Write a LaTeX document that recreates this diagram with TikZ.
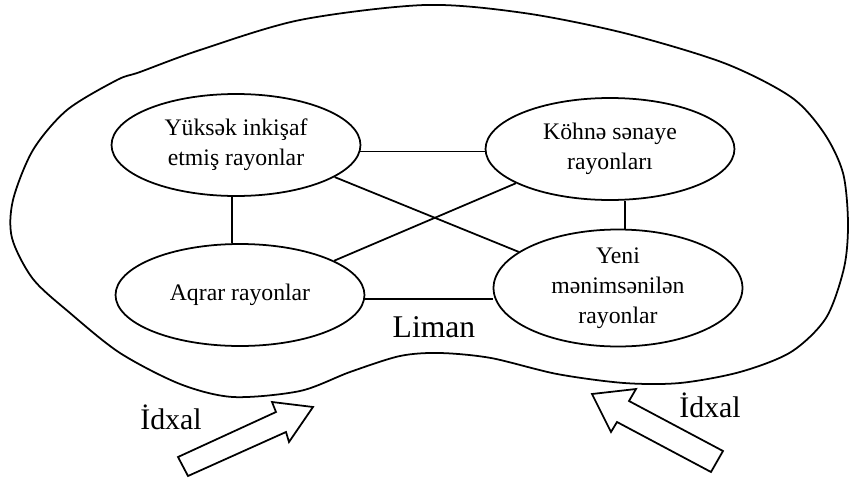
\documentclass[tikz,border=0pt]{standalone}
\usepackage{fontspec}
\setmainfont{Liberation Serif}
\usetikzlibrary{shapes.geometric}

\begin{document}
\begin{tikzpicture}[x=0.02cm, y=0.02cm, line width=1pt,
  rayon/.style={ellipse, draw=black, line width=1pt, minimum width=4.98cm,
                minimum height=2.04cm, inner sep=0pt, align=center,
                font=\fontsize{13.5}{17}\selectfont},
  lbl/.style={anchor=base, font=\fontsize{17}{20}\selectfont},
  idxal/.style={draw=black, line width=1pt, fill=white, line join=miter}
]
  \useasboundingbox (0,0) rectangle (849,478);

  \draw plot[smooth cycle] coordinates {
    (425,473) (524,465) (624,445) (724,415) (791,381) (824,345) (843,305)
    (848,255) (844,210) (826,160) (791,126) (740,106) (680,95) (624,95)
    (557,104) (491,120) (440,125) (400,122) (350,106) (300,87) (233,81)
    (180,94) (120,125) (70,165) (33,199) (12,240) (13,278) (33,328)
    (67,368) (117,398) (140,406) (200,428) (300,458)};

  \node[rayon] (yuksek) at (236,333) {Yüksək inkişaf\\etmiş rayonlar};
  \node[rayon] (kohne) at (610,329) {Köhnə sənaye\\rayonları};
  \node[rayon] (aqrar) at (240,183) {Aqrar rayonlar};
  \node[rayon, minimum height=2.34cm] (yeni) at (618,190) {Yeni\\mənimsənilən\\rayonlar};

  \draw (yuksek.-3) -- (yuksek.-3 -| kohne.west);
  \draw ([xshift=-0.08cm]yuksek.south) -- ([xshift=-0.08cm]yuksek.south |- aqrar.north);
  \draw ([xshift=0.3cm]kohne.south) -- ([xshift=0.3cm]kohne.south |- yeni.north);
  \draw (aqrar.-2) -- (aqrar.-2 -| yeni.west);
  \draw (yuksek.-18) -- (yeni.160);
  \draw (aqrar.20) -- (kohne.200);

  \node[lbl, font=\fontsize{18}{21}\selectfont] (liman) at (434,141) {Liman};

  \draw[idxal] (178,21) -- (276,66) -- (272,76) -- (313,71) -- (289,36)
    -- (286,46) -- (188,2) -- cycle;
  \draw[idxal] (592,84) -- (636,89) -- (629,77) -- (723,27) -- (711,6)
    -- (617,56) -- (611,46) -- cycle;

  \node[lbl] (idxal1) at (171,49) {İdxal};
  \node[lbl] (idxal2) at (710,61) {İdxal};
\end{tikzpicture}
\end{document}
